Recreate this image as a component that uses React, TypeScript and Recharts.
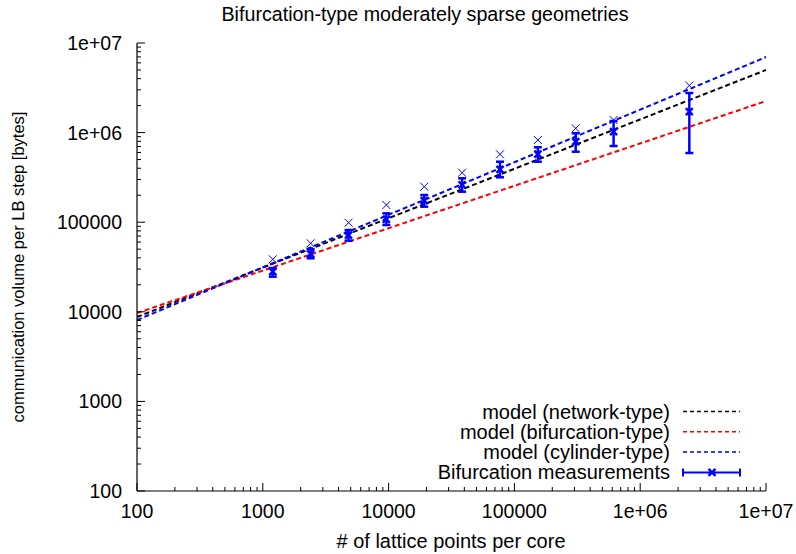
import React from "react";
import {
  ComposedChart,
  Line,
  Scatter,
  ErrorBar,
  XAxis,
  YAxis,
  Legend,
  Label,
} from "recharts";

const FONT = "'Liberation Sans', Arial, sans-serif";
const BLUE = "#0000ff";

// measured points (lattice points per core)
const latticePoints = [1200, 2400, 4800, 9600, 19200, 38400, 76800, 153600, 307200, 614400, 2457600];
const measMean = [28000, 44200, 71900, 107700, 173800, 260200, 389300, 576800, 791000, 1023000, 1711000];
const measLow = [24650, 39540, 62200, 93000, 148900, 218900, 317000, 473500, 612000, 708500, 591800];
const measHigh = [30800, 49830, 81800, 125700, 201200, 309000, 473400, 685600, 982700, 1347000, 2767000];
const measUpper = [38500, 58150, 98700, 155600, 248900, 356800, 572400, 826000, 1116000, 1382000, 3355000];

// model lines (straight in log-log), end points
const modelX = [100, 1e7];
const modelNetwork = [8750, 5.0e6];
const modelBifurcation = [9700, 2.25e6];
const modelCylinder = [8100, 6.97e6];

const majorTicks = [100, 1e3, 1e4, 1e5, 1e6, 1e7];
const tickLabels = ["100", "1000", "10000", "100000", "1e+06", "1e+07"];
const allTicks = [
  ...majorTicks,
  ...majorTicks.slice(0, -1).flatMap((m) => [2, 3, 4, 5, 6, 7, 8, 9].map((k) => k * m)),
].sort((a, b) => a - b);

const modelSeries = [
  { name: "model (network-type)", color: "#000000", values: modelNetwork },
  { name: "model (bifurcation-type)", color: "#ff0000", values: modelBifurcation },
  { name: "model (cylinder-type)", color: BLUE, values: modelCylinder },
];

const measData = latticePoints.map((x, i) => ({
  x,
  y: measMean[i],
  err: [measMean[i] - measLow[i], measHigh[i] - measMean[i]],
}));
const upperData = latticePoints.map((x, i) => ({ x, y: measUpper[i] }));

const labelOf = (v: number) => {
  const i = majorTicks.indexOf(v);
  return i >= 0 ? tickLabels[i] : null;
};

const TICK_FS = 19.5;
const TEXT_FS = 20;

const BottomTick = (p: any) => {
  const lab = labelOf(p.payload.value);
  const len = lab ? 8 : 4;
  return (
    <g>
      <line x1={p.x} x2={p.x} y1={p.y} y2={p.y - len} stroke="#000" />
      {lab && (
        <text x={p.x} y={p.y + 27} textAnchor="middle" fontSize={TICK_FS} fontFamily={FONT} fill="#000">
          {lab}
        </text>
      )}
    </g>
  );
};

const TopTick = (p: any) => {
  const len = labelOf(p.payload.value) ? 8 : 4;
  return <line x1={p.x} x2={p.x} y1={p.y} y2={p.y + len} stroke="#000" />;
};

const LeftTick = (p: any) => {
  const lab = labelOf(p.payload.value);
  const len = lab ? 8 : 4;
  return (
    <g>
      <line x1={p.x} x2={p.x + len} y1={p.y} y2={p.y} stroke="#000" />
      {lab && (
        <text x={p.x - 15} y={p.y + 7} textAnchor="end" fontSize={TICK_FS} fontFamily={FONT} fill="#000">
          {lab}
        </text>
      )}
    </g>
  );
};

const RightTick = (p: any) => {
  const len = labelOf(p.payload.value) ? 8 : 4;
  return <line x1={p.x} x2={p.x - len} y1={p.y} y2={p.y} stroke="#000" />;
};

const Cross = ({ cx, cy, r, w }: { cx: number; cy: number; r: number; w: number }) => (
  <g stroke={BLUE} strokeWidth={w}>
    <line x1={cx - r} y1={cy - r} x2={cx + r} y2={cy + r} />
    <line x1={cx - r} y1={cy + r} x2={cx + r} y2={cy - r} />
  </g>
);

const LegendBox = (props: any) => {
  const names = [...modelSeries.map((s) => s.name), "Bifurcation measurements"];
  const payload = (props.payload || []).filter((e: any) => names.includes(e.value));
  payload.sort((a: any, b: any) => names.indexOf(a.value) - names.indexOf(b.value));
  return (
    <svg width={796} height={554} style={{ position: "absolute", left: 0, top: 0 }}>
      {payload.map((e: any, i: number) => {
        const y = 411.5 + i * 20.3;
        const isMeas = e.value === "Bifurcation measurements";
        return (
          <g key={e.value}>
            <text x={670} y={y + 7} textAnchor="end" fontSize={TEXT_FS} fontFamily={FONT} fill="#000">
              {e.value}
            </text>
            {isMeas ? (
              <g stroke={BLUE} strokeWidth={2}>
                <line x1={683} x2={740} y1={y} y2={y} />
                <line x1={683} x2={683} y1={y - 4} y2={y + 4} />
                <line x1={740} x2={740} y1={y - 4} y2={y + 4} />
                <Cross cx={712} cy={y} r={3.5} w={2.5} />
              </g>
            ) : (
              <line x1={683} x2={740} y1={y} y2={y} stroke={e.color} strokeWidth={1.5} strokeDasharray="4 3" />
            )}
          </g>
        );
      })}
    </svg>
  );
};

export default function App() {
  return (
    <div style={{ position: "absolute", left: 0, top: 0, width: 796, height: 554, background: "#fff" }}>
      <ComposedChart width={796} height={554} margin={{ top: 43, right: 30, bottom: 0, left: 0 }}>
        <XAxis
          dataKey="x"
          type="number"
          scale="log"
          domain={[100, 1e7]}
          allowDataOverflow
          ticks={allTicks}
          interval={0}
          tickSize={0}
          tickMargin={0}
          tick={<BottomTick />}
          height={63}
          axisLine={{ stroke: "#000", strokeWidth: 1.2 }}
        >
          <Label
            content={() => (
              <text x={451} y={548} textAnchor="middle" fontSize={TEXT_FS} fontFamily={FONT} fill="#000">
                # of lattice points per core
              </text>
            )}
          />
        </XAxis>
        <XAxis
          xAxisId="top"
          orientation="top"
          dataKey="x"
          type="number"
          scale="log"
          domain={[100, 1e7]}
          allowDataOverflow
          ticks={allTicks}
          interval={0}
          tickSize={0}
          tickMargin={0}
          tick={<TopTick />}
          height={0}
          axisLine={{ stroke: "#000", strokeWidth: 1.2 }}
        />
        <YAxis
          type="number"
          scale="log"
          domain={[100, 1e7]}
          allowDataOverflow
          ticks={allTicks}
          interval={0}
          tickSize={0}
          tickMargin={0}
          tick={<LeftTick />}
          width={137}
          axisLine={{ stroke: "#000", strokeWidth: 1.2 }}
        >
          <Label
            content={() => (
              <g>
                <text
                  x={18}
                  y={267}
                  transform="rotate(-90 18 267)"
                  textAnchor="middle"
                  dominantBaseline="central"
                  fontSize={16.5}
                  fontFamily={FONT}
                  fill="#000"
                >
                  communication volume per LB step [bytes]
                </text>
                <text x={425} y={21} textAnchor="middle" fontSize={19.7} fontFamily={FONT} fill="#000">
                  Bifurcation-type moderately sparse geometries
                </text>
              </g>
            )}
          />
        </YAxis>
        <YAxis
          yAxisId="right"
          orientation="right"
          type="number"
          scale="log"
          domain={[100, 1e7]}
          allowDataOverflow
          ticks={allTicks}
          interval={0}
          tickSize={0}
          tickMargin={0}
          tick={<RightTick />}
          width={0}
          axisLine={{ stroke: "#000", strokeWidth: 1.2 }}
        />
        {modelSeries.map((s) => (
          <Line
            key={s.name}
            name={s.name}
            data={modelX.map((x, i) => ({ x, y: s.values[i] }))}
            dataKey="y"
            stroke={s.color}
            strokeWidth={2}
            strokeDasharray="5 3"
            dot={false}
            activeDot={false}
            isAnimationActive={false}
          />
        ))}
        <Scatter
          name="Bifurcation measurements"
          data={measData}
          dataKey="y"
          fill={BLUE}
          legendType="cross"
          isAnimationActive={false}
          shape={(p: any) => <Cross cx={p.cx} cy={p.cy} r={3.5} w={2.5} />}
        >
          <ErrorBar dataKey="err" direction="y" width={4} stroke={BLUE} strokeWidth={2.5} isAnimationActive={false} />
        </Scatter>
        <Scatter
          name="upper"
          data={upperData}
          dataKey="y"
          fill={BLUE}
          legendType="none"
          isAnimationActive={false}
          shape={(p: any) => <Cross cx={p.cx} cy={p.cy} r={4} w={1} />}
        />
        <Legend
          layout="horizontal"
          verticalAlign="middle"
          align="center"
          content={<LegendBox />}
          wrapperStyle={{ position: "absolute", left: 0, top: 0, width: 796, height: 554, pointerEvents: "none" }}
        />
      </ComposedChart>
    </div>
  );
}
